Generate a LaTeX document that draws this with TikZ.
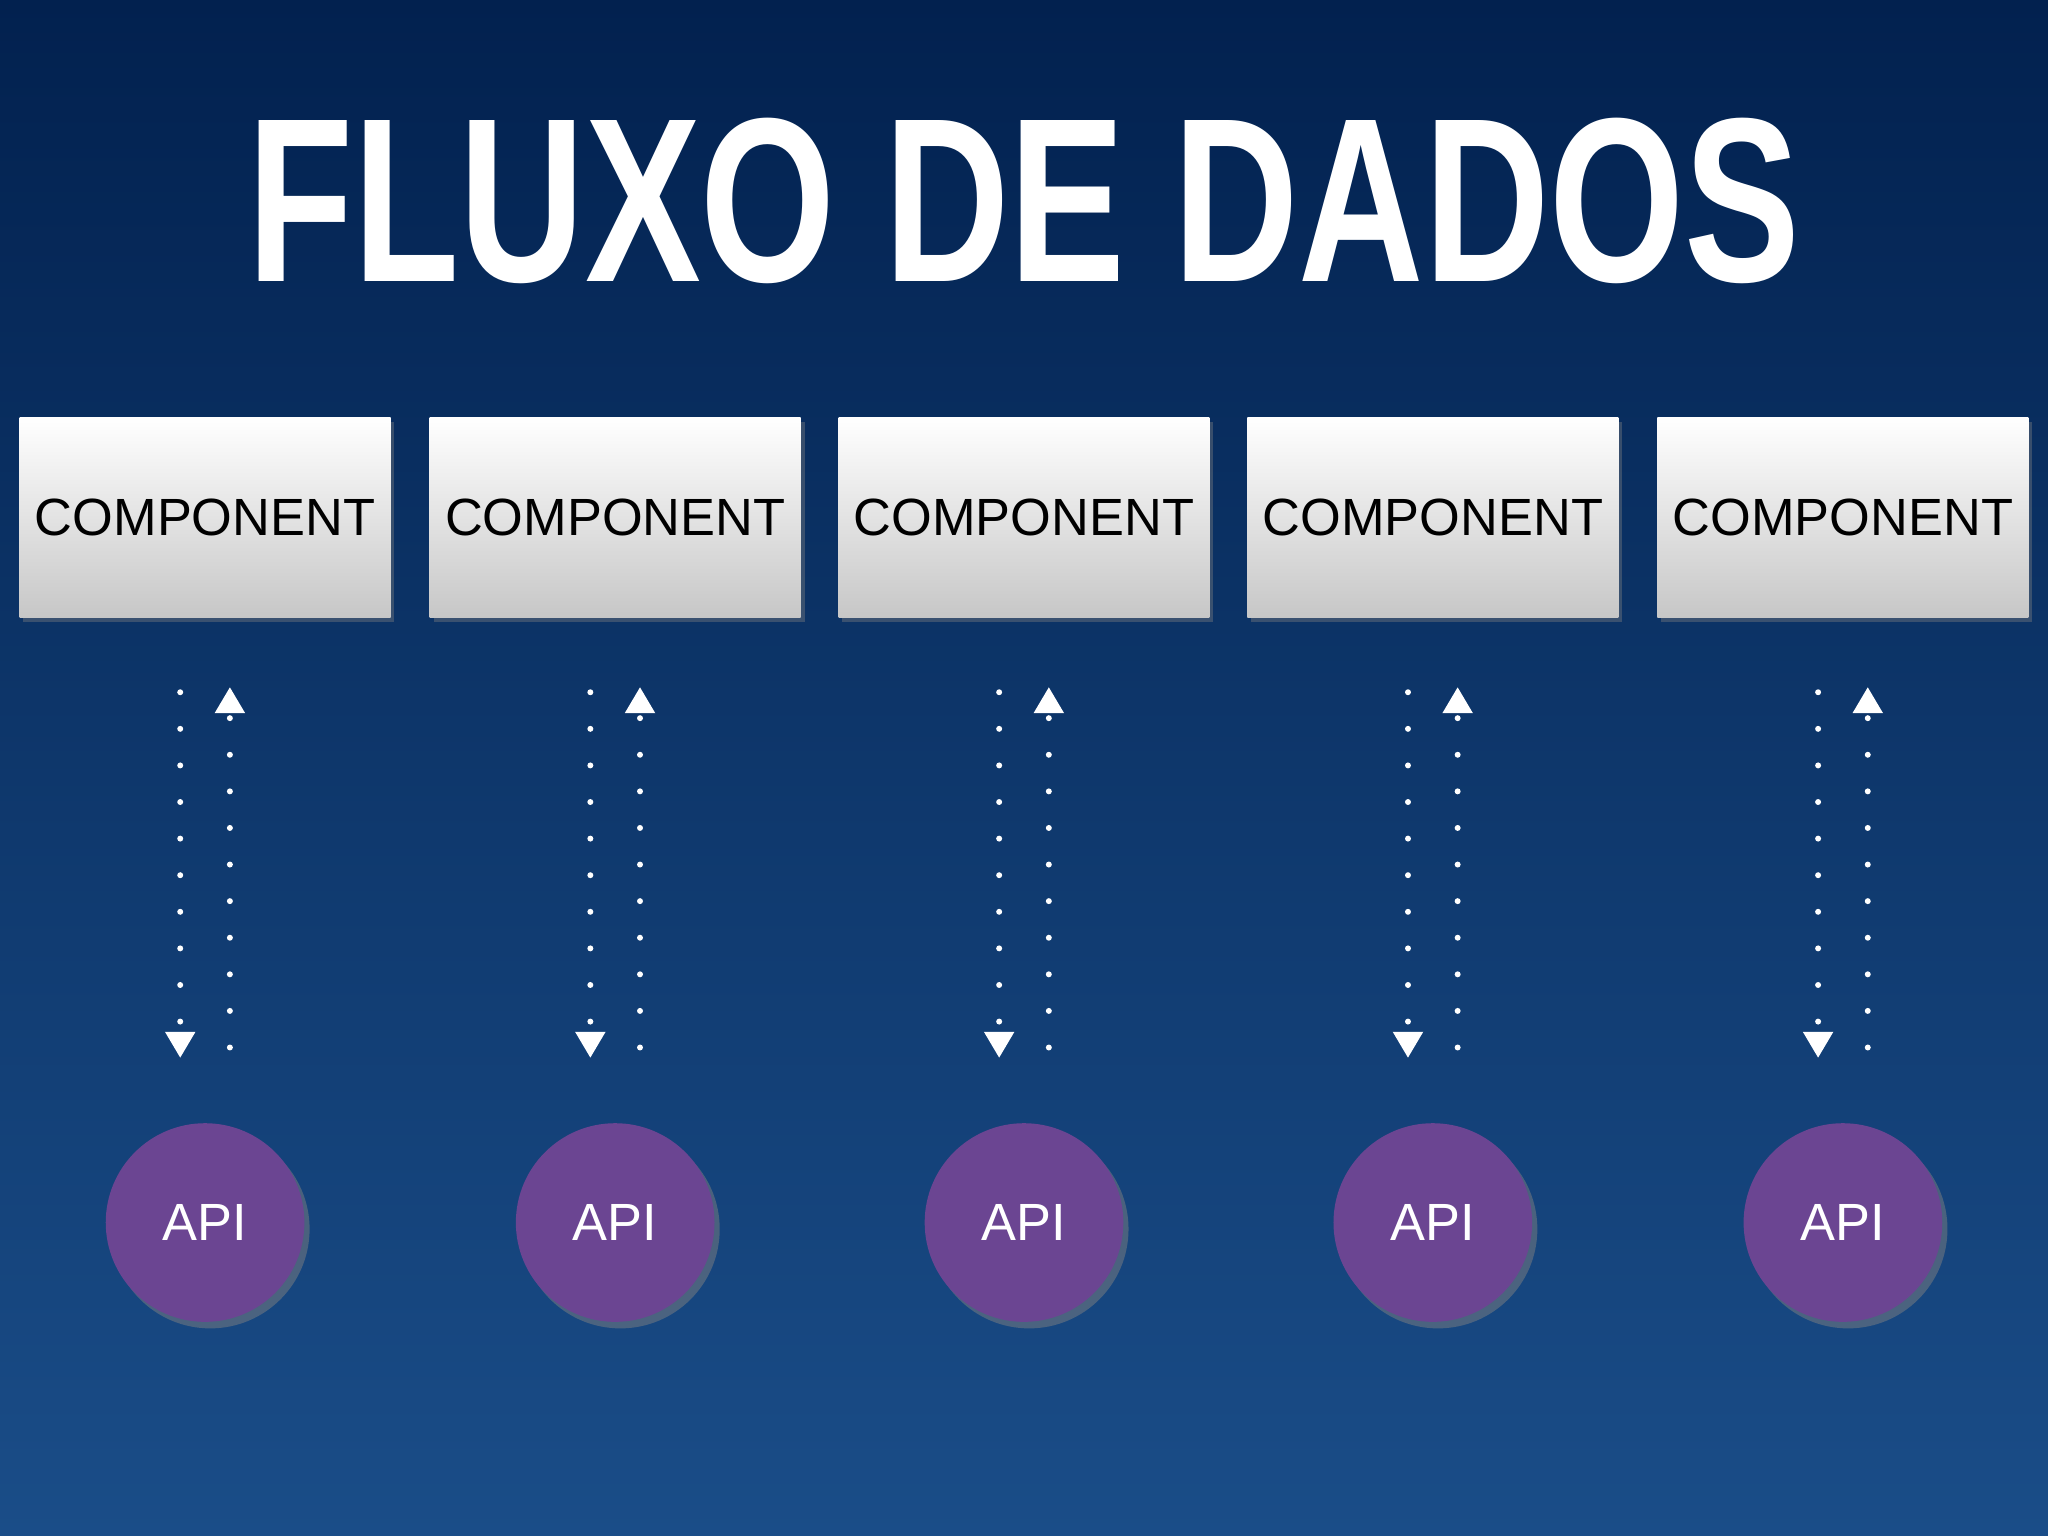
\documentclass[tikz,border=0pt]{standalone}
\usepackage{fontspec}
\setmainfont{Liberation Sans}
\usetikzlibrary{arrows.meta,shadows}
\definecolor{bgtop}{HTML}{02214F}
\definecolor{bgbot}{HTML}{1A4D88}
\definecolor{apipurple}{HTML}{6B4592}
\tikzset{
  comp/.style={rectangle, minimum width=2.82cm, minimum height=1.53cm, top color=white, bottom color=black!22, draw=none, font=\fontsize{11.4pt}{12pt}\selectfont, text=black, drop shadow={shadow xshift=0.3mm, shadow yshift=-0.4mm, opacity=0.4}},
  api/.style={circle, minimum size=1.52cm, fill=apipurple, text=white, font=\fontsize{11.4pt}{12pt}\selectfont, drop shadow={shadow xshift=0.4mm, shadow yshift=-0.5mm, opacity=0.5}},
  flow/.style={white, line width=1.3pt, dash pattern=on 0pt off 2.8mm, line cap=round, -{Triangle[width=2.2mm,length=2mm]}}
}
\begin{document}
\begin{tikzpicture}[x=0.01cm,y=-0.01cm]
\fill[top color=bgtop, bottom color=bgbot] (0,0) rectangle (1568,1176);
\useasboundingbox (0,0) rectangle (1568,1176);
\node[text=white, inner sep=0, anchor=south] (title) at (784,218) {\resizebox{11.88cm}{1.25cm}{\bfseries FLUXO DE DADOS}};
\foreach \i/\cx/\ax in {1/157/157, 2/471/471, 3/784/784, 4/1097/1097, 5/1411/1411} {
  \node[comp] (c\i) at (\cx,396) {COMPONENT};
  \node[api] (a\i) at (\ax,936) {API};
  \coordinate (d\i s) at ([xshift=-0.19cm]c\i.south |- 0,530);
  \coordinate (d\i e) at ([xshift=-0.19cm]c\i.south |- 0,810);
  \coordinate (u\i s) at ([xshift=0.19cm]c\i.south |- 0,802);
  \coordinate (u\i e) at ([xshift=0.19cm]c\i.south |- 0,526);
  \draw[flow] (d\i s) -- (d\i e);
  \draw[flow] (u\i s) -- (u\i e);
}
\end{tikzpicture}
\end{document}
